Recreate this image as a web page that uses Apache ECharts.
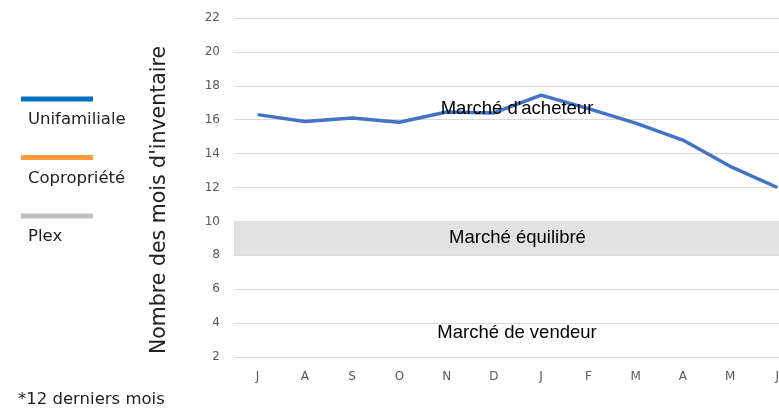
<!DOCTYPE html>
<html>
<head>
<meta charset="utf-8">
<script src="https://cdn.jsdelivr.net/npm/echarts@6/dist/echarts.min.js"></script>
<style>
  html, body { margin: 0; padding: 0; background: #fff; overflow: hidden; }
  #chart { width: 779px; height: 409px; }
</style>
</head>
<body>
<div id="chart"></div>
<script>
const months = ['J', 'A', 'S', 'O', 'N', 'D', 'J', 'F', 'M', 'A', 'M', 'J']
const unifamiliale = [16.3, 15.9, 16.1, 15.85, 16.45, 16.4, 17.45, 16.65, 15.8, 14.8, 13.25, 12.0]
const legendNames = ['Unifamiliale', 'Copropriété', 'Plex']
const legendColors = ['#0070c0', '#ff9a3c', '#bfbfbf']
const zoneLabels = ['Marché d\'acheteur', 'Marché équilibré', 'Marché de vendeur']

const gothic = '"DejaVu Sans", sans-serif'
const arial = '"Liberation Sans", Arial, sans-serif'

const chart = echarts.init(document.getElementById('chart'))

// legend drawn by hand: line above the name
const legendGraphic = []
legendNames.forEach((name, i) => {
  const y = 99 + i * 58.5
  legendGraphic.push({
    type: 'rect',
    shape: { x: 21, y: y - 2.5, width: 72, height: 5 },
    style: { fill: legendColors[i] }
  })
  legendGraphic.push({
    type: 'text',
    x: 28,
    y: y + 21,
    style: { text: name, font: '16.5px ' + gothic, fill: '#222', verticalAlign: 'middle' }
  })
})

const option = {
  animation: false,
  // plot runs past the right edge, the last month is cut
  grid: { left: 234, right: -22, top: 18, bottom: 52, outerBoundsMode: 'none', containLabel: false },
  xAxis: {
    type: 'category',
    data: months,
    axisLine: { show: false },
    axisTick: { show: false },
    axisLabel: { color: '#595959', fontSize: 12, fontFamily: gothic, margin: 14 }
  },
  yAxis: {
    type: 'value',
    min: 2,
    max: 22,
    interval: 2,
    axisLine: { show: false },
    axisTick: { show: false },
    axisLabel: { color: '#595959', fontSize: 12, fontFamily: gothic, margin: 14 },
    splitLine: { lineStyle: { color: '#d9d9d9', width: 1 } }
  },
  graphic: legendGraphic.concat([
    {
      type: 'text',
      x: 160,
      y: 200,
      rotation: Math.PI / 2,
      style: {
        text: 'Nombre des mois d\'inventaire',
        font: '20.5px ' + gothic,
        fill: '#222',
        align: 'center',
        verticalAlign: 'middle'
      }
    },
    {
      type: 'text',
      x: 18,
      y: 400,
      style: { text: '*12 derniers mois', font: '16.5px ' + gothic, fill: '#222', verticalAlign: 'middle' }
    },
    {
      type: 'text',
      x: 517,
      y: 109,
      z: 100,
      style: { text: zoneLabels[0], font: '18.5px ' + arial, fill: '#000', align: 'center', verticalAlign: 'middle' }
    },
    {
      type: 'text',
      x: 517,
      y: 333,
      z: 100,
      style: { text: zoneLabels[2], font: '18.5px ' + arial, fill: '#000', align: 'center', verticalAlign: 'middle' }
    }
  ]),
  series: [
    {
      name: legendNames[0],
      type: 'line',
      data: unifamiliale,
      symbol: 'none',
      lineStyle: { color: '#4472c4', width: 3.5 },
      z: 3,
      markArea: {
        silent: true,
        itemStyle: { color: '#e2e2e2' },
        label: {
          show: true,
          position: 'inside',
          color: '#000',
          fontSize: 18.5,
          fontFamily: arial
        },
        data: [[{ yAxis: 8, name: zoneLabels[1] }, { yAxis: 10 }]]
      }
    }
  ]
}
chart.setOption(option)
</script>
</body>
</html>
